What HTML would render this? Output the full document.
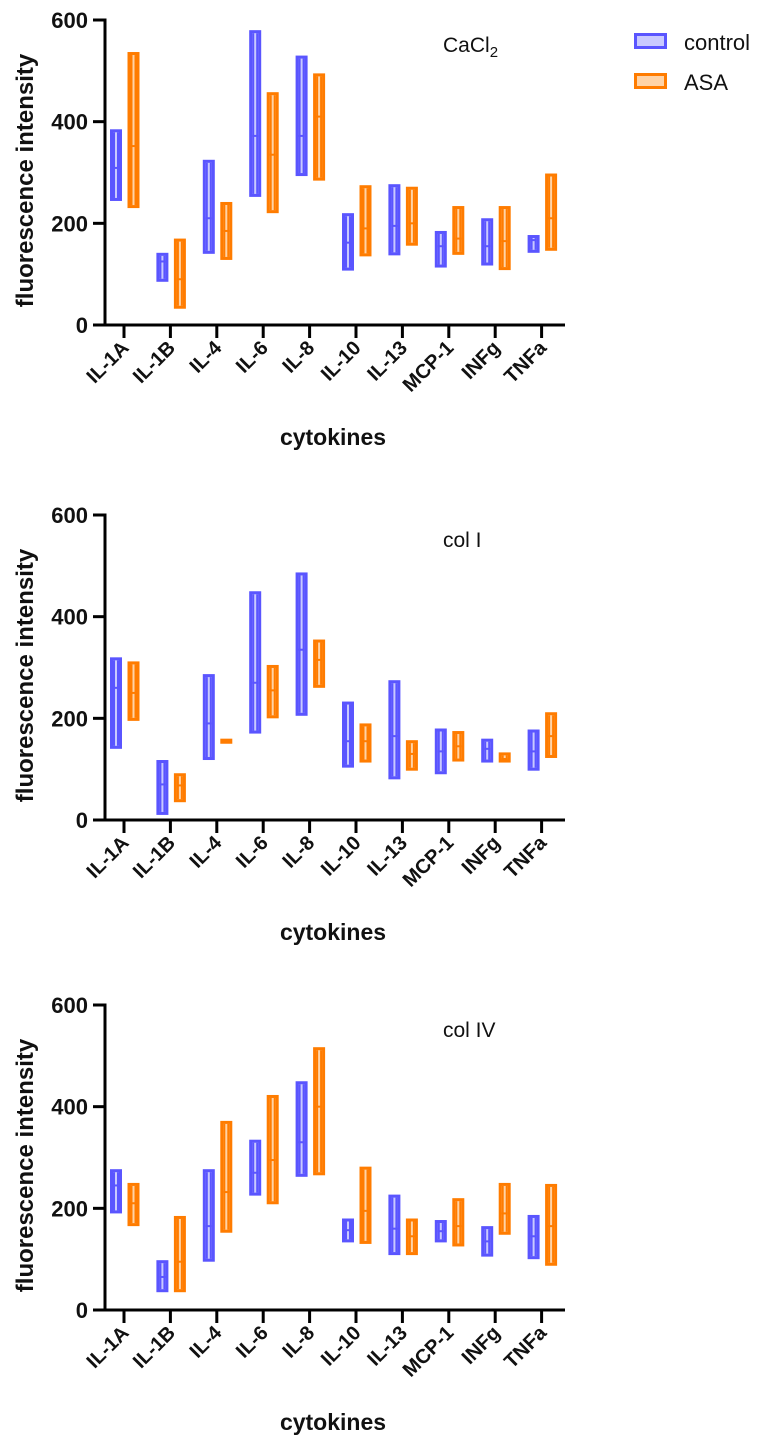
<!DOCTYPE html>
<html><head><meta charset="utf-8"><style>
body{margin:0;background:#fff;}
svg{display:block;font-family:"Liberation Sans",Arial,sans-serif;}
</style></head><body>
<svg id="c" width="763" height="1444" viewBox="0 0 763 1444">
<g>
<g>
<rect x="635.5" y="34.5" width="30" height="13" fill="#c9c9ff" stroke="#5a55ff" stroke-width="3"/>
<text x="684" y="50" font-size="22" fill="#111">control</text></g>
<g>
<rect x="635.5" y="74.5" width="30" height="13" fill="#ffd3a6" stroke="#ff7c00" stroke-width="3"/>
<text x="684" y="90" font-size="22" fill="#111">ASA</text></g>
</g>
</svg>
<script>
const categories=["IL-1A","IL-1B","IL-4","IL-6","IL-8","IL-10","IL-13","MCP-1","INFg","TNFa"];
const yTicks=[0,200,400,600];
// panel 1 CaCl2
const p1ControlMax=[385,142,325,580,530,220,277,185,210,177];
const p1ControlMin=[244,85,140,252,293,107,137,113,117,142];
const p1ControlMed=[309,125,210,372,372,162,195,155,155,167];
const p1AsaMax=[537,170,242,458,495,275,272,234,234,298];
const p1AsaMin=[230,32,128,220,284,135,156,138,108,146];
const p1AsaMed=[352,90,185,335,410,190,200,170,165,210];
// panel 2 col I
const p2ControlMax=[320,118,287,450,487,233,275,180,160,178];
const p2ControlMin=[140,10,118,170,205,103,80,90,113,97];
const p2ControlMed=[260,70,190,270,335,155,165,135,140,135];
const p2AsaMax=[312,92,160,305,355,190,157,175,133,212];
const p2AsaMin=[195,35,150,200,260,113,97,115,113,122];
const p2AsaMed=[250,68,155,255,315,155,130,145,120,165];
// panel 3 col IV
const p3ControlMax=[277,98,277,335,450,180,227,177,165,187];
const p3ControlMin=[190,35,95,225,262,133,108,133,105,100];
const p3ControlMed=[245,65,165,270,330,157,160,155,135,145];
const p3AsaMax=[250,185,372,423,517,282,180,220,250,248];
const p3AsaMin=[165,35,152,208,265,130,108,125,148,87];
const p3AsaMed=[210,95,232,295,400,195,145,165,190,165];

const NS="http://www.w3.org/2000/svg";
const svg=document.getElementById('c');
function mk(t,a,p){const e=document.createElementNS(NS,t);for(const k in a)e.setAttribute(k,a[k]);(p||svg).appendChild(e);return e;}
const panels=[
 {top:20,bot:325,title:"CaCl",sub:"2",key:"cacl2",c:[p1ControlMax,p1ControlMin,p1ControlMed],a:[p1AsaMax,p1AsaMin,p1AsaMed]},
 {top:515,bot:820,title:"col I",sub:"",key:"col-i",c:[p2ControlMax,p2ControlMin,p2ControlMed],a:[p2AsaMax,p2AsaMin,p2AsaMed]},
 {top:1005,bot:1310,title:"col IV",sub:"",key:"col-iv",c:[p3ControlMax,p3ControlMin,p3ControlMed],a:[p3AsaMax,p3AsaMin,p3AsaMed]}
];
const AX=105,X0=124,DX=46.4,XEND=565;
panels.forEach(p=>{
 const g=mk('g',{});
 
 
 const y=v=>p.bot-v*(p.bot-p.top)/600;
 const x=i=>X0+i*DX;
 function box(i,mx,mn,md,off,col,light,name){
  const bg=mk('g',{},g);
  
  
  const cx=x(i)+off,w=12,t=y(mx),b=y(mn);
  mk('rect',{x:cx-w/2+1.5,y:t+1.5,width:w-3,height:Math.max(b-t-3,1),fill:light,stroke:col,'stroke-width':3},bg);
  mk('rect',{x:cx-w/2+3,y:t+3,width:2,height:Math.max(b-t-6,0),fill:col},bg);
  mk('rect',{x:cx+w/2-5,y:t+3,width:2,height:Math.max(b-t-6,0),fill:col},bg);
  mk('line',{x1:cx-3,x2:cx+3,y1:y(md),y2:y(md),stroke:col,'stroke-width':2},bg);
 }
 categories.forEach((c,i)=>{
  box(i,p.c[0][i],p.c[1][i],p.c[2][i],-8,'#5a55ff','#c9c9ff','box-control-'+c.toLowerCase());
  box(i,p.a[0][i],p.a[1][i],p.a[2][i],9.5,'#ff7c00','#ffd3a6','box-asa-'+c.toLowerCase());
 });
 const ya=mk('line',{x1:AX,x2:AX,y1:p.top-1.5,y2:p.bot+1.5,stroke:'#000','stroke-width':3},g);
 
 
 const xa=mk('line',{x1:AX-12,x2:XEND,y1:p.bot,y2:p.bot,stroke:'#000','stroke-width':3},g);
 
 
 yTicks.forEach(v=>{
  mk('line',{x1:AX-12,x2:AX,y1:y(v),y2:y(v),stroke:'#000','stroke-width':3},g);
  const t=mk('text',{x:AX-17,y:y(v)+8,'text-anchor':'end','font-size':22,'font-weight':'bold',fill:'#111'},g);
  t.textContent=v;
  
  
 });
 categories.forEach((c,i)=>{
  mk('line',{x1:x(i),x2:x(i),y1:p.bot,y2:p.bot+13,stroke:'#000','stroke-width':3},g);
  const t=mk('text',{x:x(i)+6,y:p.bot+24,'text-anchor':'end','font-size':20,'font-weight':'bold',fill:'#111',transform:`rotate(-45 ${x(i)+6} ${p.bot+24})`},g);
  t.textContent=c;
  
  
 });
 const yt=mk('text',{x:0,y:0,'text-anchor':'middle','font-size':24,'font-weight':'bold',fill:'#111',transform:`translate(33 ${(p.top+p.bot)/2+8}) rotate(-90)`},g);
 yt.textContent='fluorescence intensity';
 
 
 const xt=mk('text',{x:333,y:p.bot+120,'text-anchor':'middle','font-size':23,'font-weight':'bold',fill:'#111'},g);
 xt.textContent='cytokines';
 
 
 const tt=mk('text',{x:443,y:p.top+32,'font-size':21,fill:'#111'},g);
 tt.textContent=p.title;
 if(p.sub){const s=mk('tspan',{'font-size':15,dy:5},tt);s.textContent=p.sub;}
 
 
});
</script>
</body></html>
